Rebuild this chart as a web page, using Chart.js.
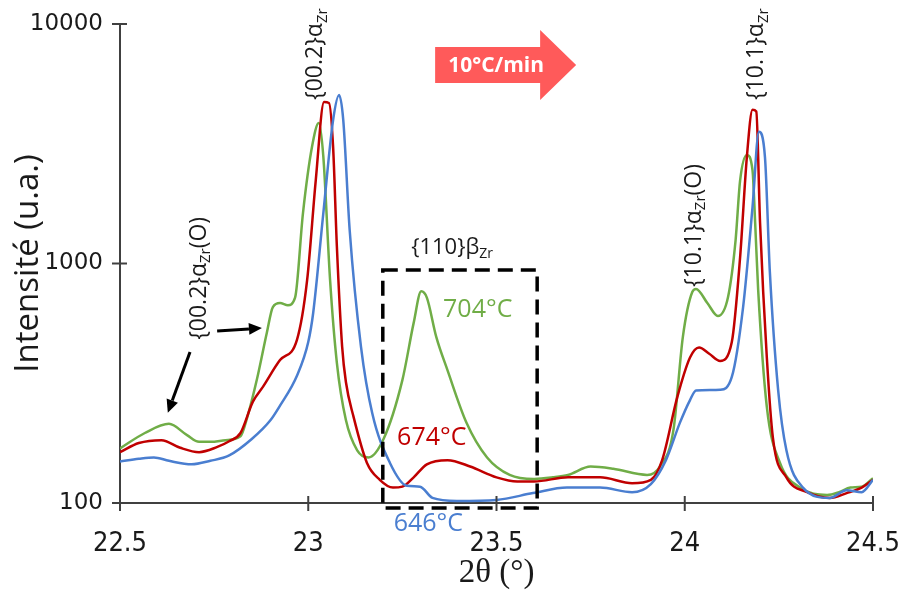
<!DOCTYPE html>
<html>
<head>
<meta charset="utf-8">
<script src="https://cdn.jsdelivr.net/npm/chart.js@4.4.1/dist/chart.umd.min.js"></script>
<style>
  html, body { margin: 0; padding: 0; background: #fff; }
  #wrap { width: 901px; height: 590px; }
</style>
</head>
<body>
<div id="wrap"><canvas id="xrd" width="901" height="590"></canvas></div>
<script>
// axis ticks
const xTicks = [22.5, 23, 23.5, 24, 24.5];
const yTicks = [100, 1000, 10000];

// 646°C (blue)
const x646 = [22.5, 22.55, 22.59, 22.63, 22.69, 22.74, 22.79, 22.85, 22.9, 22.925, 22.97, 23.0, 23.013, 23.04, 23.066, 23.082, 23.093, 23.11, 23.14, 23.17, 23.217, 23.262, 23.297, 23.33, 23.395, 23.5, 23.597, 23.687, 23.775, 23.86, 23.91, 23.95, 23.987, 24.014, 24.03, 24.094, 24.125, 24.155, 24.18, 24.197, 24.213, 24.226, 24.248, 24.27, 24.314, 24.385, 24.43, 24.47, 24.5];
const i646 = [149, 153, 155, 150, 145, 150, 158, 185, 222, 255, 340, 470, 620, 1620, 3970, 5050, 3970, 1380, 450, 237, 147, 118, 117, 105, 102, 103, 110, 116, 116, 111, 120, 151, 216, 269, 295, 297, 336, 658, 1720, 3550, 2790, 925, 297, 166, 116, 105, 113, 111, 125];

// 674°C (red)
const x674 = [22.5, 22.55, 22.61, 22.66, 22.71, 22.757, 22.79, 22.82, 22.853, 22.88, 22.925, 22.97, 22.997, 23.02, 23.042, 23.055, 23.066, 23.076, 23.09, 23.1, 23.12, 23.156, 23.19, 23.225, 23.25, 23.28, 23.315, 23.37, 23.43, 23.5, 23.555, 23.6, 23.69, 23.775, 23.86, 23.91, 23.94, 23.98, 24.014, 24.038, 24.065, 24.094, 24.125, 24.147, 24.165, 24.18, 24.19, 24.2, 24.218, 24.234, 24.27, 24.325, 24.385, 24.43, 24.47, 24.5];
const i674 = [163, 178, 183, 170, 163, 171, 181, 196, 265, 306, 395, 480, 852, 2230, 4720, 4680, 3070, 1180, 450, 320, 230, 147, 125, 116, 117, 128, 145, 151, 142, 128, 123, 123, 128, 128, 121, 125, 151, 276, 405, 446, 420, 392, 470, 1060, 2790, 4390, 4310, 1480, 405, 188, 128, 111, 105, 110, 116, 125];

// 704°C (green)
const x704 = [22.5, 22.566, 22.63, 22.678, 22.71, 22.74, 22.78, 22.82, 22.837, 22.864, 22.89, 22.906, 22.925, 22.946, 22.965, 22.986, 23.01, 23.028, 23.04, 23.058, 23.076, 23.1, 23.13, 23.16, 23.2, 23.25, 23.28, 23.3, 23.315, 23.34, 23.37, 23.42, 23.475, 23.535, 23.6, 23.65, 23.69, 23.75, 23.81, 23.9, 23.934, 23.97, 23.995, 24.02, 24.03, 24.06, 24.088, 24.115, 24.135, 24.147, 24.165, 24.18, 24.187, 24.195, 24.218, 24.253, 24.306, 24.378, 24.41, 24.44, 24.47, 24.5];
const i704 = [169, 196, 214, 192, 180, 180, 183, 190, 225, 330, 514, 658, 684, 670, 720, 1624, 3070, 3860, 2800, 852, 385, 222, 166, 155, 185, 326, 565, 765, 720, 494, 358, 217, 155, 131, 126, 128, 131, 142, 139, 131, 142, 202, 494, 760, 783, 684, 604, 725, 1250, 2220, 2840, 2450, 1480, 776, 252, 147, 116, 108, 111, 116, 117, 127];

const pts = (xs, ys) => xs.map((v, i) => ({ x: v, y: ys[i] }));

const labelFont = '"Open Sans", sans-serif';
const ink = '#1a1a1a';

// draws text pieces one after another, pieces may be subscripts
function drawRich(ctx, parts, x, y, align) {
  let total = 0;
  parts.forEach(p => {
    ctx.font = p.size + 'px ' + labelFont;
    p.w = ctx.measureText(p.t).width;
    total += p.w;
  });
  let cx = align === 'center' ? x - total / 2 : x;
  ctx.textAlign = 'left';
  ctx.textBaseline = 'middle';
  parts.forEach(p => {
    ctx.font = p.size + 'px ' + labelFont;
    ctx.fillText(p.t, cx, y + (p.dy || 0));
    cx += p.w;
  });
}

function phase(base, tail) {
  const parts = [{ t: base, size: 23 }, { t: 'Zr', size: 15, dy: 7 }];
  if (tail) parts.push({ t: tail, size: 23 });
  return parts;
}

function arrow(ctx, x0, y0, x1, y1) {
  const a = Math.atan2(y1 - y0, x1 - x0);
  const hl = 13, hw = 6;
  ctx.beginPath();
  ctx.moveTo(x0, y0);
  ctx.lineTo(x1 - hl * Math.cos(a), y1 - hl * Math.sin(a));
  ctx.stroke();
  ctx.beginPath();
  ctx.moveTo(x1, y1);
  ctx.lineTo(x1 - hl * Math.cos(a) + hw * Math.sin(a), y1 - hl * Math.sin(a) - hw * Math.cos(a));
  ctx.lineTo(x1 - hl * Math.cos(a) - hw * Math.sin(a), y1 - hl * Math.sin(a) + hw * Math.cos(a));
  ctx.closePath();
  ctx.fill();
}

const deco = {
  id: 'deco',
  afterDraw(chart) {
    const { ctx, scales: { x, y } } = chart;
    const X = v => x.getPixelForValue(v);
    const Y = v => y.getPixelForValue(v);
    ctx.save();

    // crossing tick marks
    ctx.strokeStyle = '#404040';
    ctx.lineWidth = 2;
    xTicks.forEach(v => {
      ctx.beginPath();
      ctx.moveTo(X(v), y.bottom - 7);
      ctx.lineTo(X(v), y.bottom + 8);
      ctx.stroke();
    });
    yTicks.forEach(v => {
      ctx.beginPath();
      ctx.moveTo(x.left - 8, Y(v));
      ctx.lineTo(x.left + 7, Y(v));
      ctx.stroke();
    });

    // rotated peak labels
    ctx.fillStyle = ink;
    const rot = [
      { x: 23.02, y: 4820, parts: phase('{00.2}α') },
      { x: 22.71, y: 480, parts: phase('{00.2}α', '(O)') },
      { x: 24.025, y: 798, parts: phase('{10.1}α', '(O)') },
      { x: 24.19, y: 4820, parts: phase('{10.1}α') }
    ];
    rot.forEach(r => {
      ctx.save();
      ctx.translate(X(r.x), Y(r.y));
      ctx.rotate(-Math.PI / 2);
      drawRich(ctx, r.parts, 0, 0, 'left');
      ctx.restore();
    });

    // black arrows towards the {00.2} oxygen-rich shoulders
    ctx.strokeStyle = '#000';
    ctx.fillStyle = '#000';
    ctx.lineWidth = 3;
    arrow(ctx, X(22.686), Y(427), X(22.627), Y(238));
    arrow(ctx, X(22.758), Y(522), X(22.877), Y(538));

    // dashed box around the beta peak
    ctx.setLineDash([15, 8]);
    ctx.lineWidth = 3.5;
    ctx.strokeRect(X(23.198), Y(940), X(23.608) - X(23.198), Y(95.3) - Y(940));
    ctx.setLineDash([]);

    ctx.fillStyle = ink;
    drawRich(ctx, [{ t: '{110}β', size: 22 }, { t: 'Zr', size: 14, dy: 6 }], X(23.382), Y(1161), 'center');

    // temperature labels
    ctx.font = '25px ' + labelFont;
    ctx.textAlign = 'left';
    ctx.textBaseline = 'middle';
    ctx.fillStyle = '#70ad47';
    ctx.fillText('704°C', X(23.358), Y(640));
    ctx.fillStyle = '#c00000';
    ctx.fillText('674°C', X(23.236), Y(187));
    ctx.fillStyle = '#4a7ed0';
    ctx.fillText('646°C', X(23.227), y.bottom + 21);

    // heating-rate arrow
    const ax = X(23.337), ay = Y(6745);
    ctx.fillStyle = '#ff5a5a';
    ctx.beginPath();
    ctx.moveTo(ax, ay - 18);
    ctx.lineTo(ax + 105, ay - 18);
    ctx.lineTo(ax + 105, ay - 35);
    ctx.lineTo(ax + 141, ay);
    ctx.lineTo(ax + 105, ay + 35);
    ctx.lineTo(ax + 105, ay + 18);
    ctx.lineTo(ax, ay + 18);
    ctx.closePath();
    ctx.fill();
    ctx.fillStyle = '#fff';
    ctx.font = 'bold 21px ' + labelFont;
    ctx.textAlign = 'center';
    ctx.fillText('10°C/min', ax + 61, ay + 1);

    ctx.restore();
  }
};

const ctx = document.getElementById('xrd').getContext('2d');
new Chart(ctx, {
  type: 'line',
  data: {
    datasets: [
      { label: '646°C', data: pts(x646, i646), borderColor: '#4a7ed0' },
      { label: '674°C', data: pts(x674, i674), borderColor: '#c00000' },
      { label: '704°C', data: pts(x704, i704), borderColor: '#70ad47' }
    ]
  },
  options: {
    responsive: false,
    animation: false,
    devicePixelRatio: 1,
    layout: { padding: { left: 0, right: 28, top: 24, bottom: 0 } },
    elements: {
      point: { radius: 0 },
      line: { borderWidth: 2.5, cubicInterpolationMode: 'monotone' }
    },
    plugins: { legend: { display: false }, tooltip: { enabled: false } },
    scales: {
      x: {
        type: 'linear', min: 22.5, max: 24.5,
        afterBuildTicks: s => { s.ticks = xTicks.map(v => ({ value: v })); },
        afterFit: s => { s.height = 87; s.paddingLeft = 0; s.paddingRight = 0; },
        grid: { display: false },
        border: { color: '#404040', width: 2 },
        ticks: {
          color: ink, padding: 17,
          font: { family: '"Liberation Sans Narrow", "DejaVu Sans Condensed", sans-serif', size: 27 },
          callback: v => String(v)
        },
        title: {
          display: true, text: '2θ (°)', color: ink,
          font: { family: '"Liberation Serif", serif', size: 33 },
          padding: { top: 0, bottom: -3 }
        }
      },
      y: {
        type: 'logarithmic', min: 100, max: 10000,
        afterBuildTicks: s => { s.ticks = yTicks.map(v => ({ value: v })); },
        afterFit: s => { s.width = 120; s.paddingTop = 0; s.paddingBottom = 0; },
        grid: { display: false },
        border: { color: '#404040', width: 2 },
        ticks: {
          color: ink, padding: 9,
          font: { family: '"DejaVu Sans", sans-serif', size: 23 },
          callback: v => String(v)
        },
        title: {
          display: true, text: 'Intensité (u.a.)', color: ink,
          font: { family: labelFont, size: 33 },
          padding: { top: 9, bottom: 0 }
        }
      }
    }
  },
  plugins: [deco]
});
</script>
</body>
</html>
